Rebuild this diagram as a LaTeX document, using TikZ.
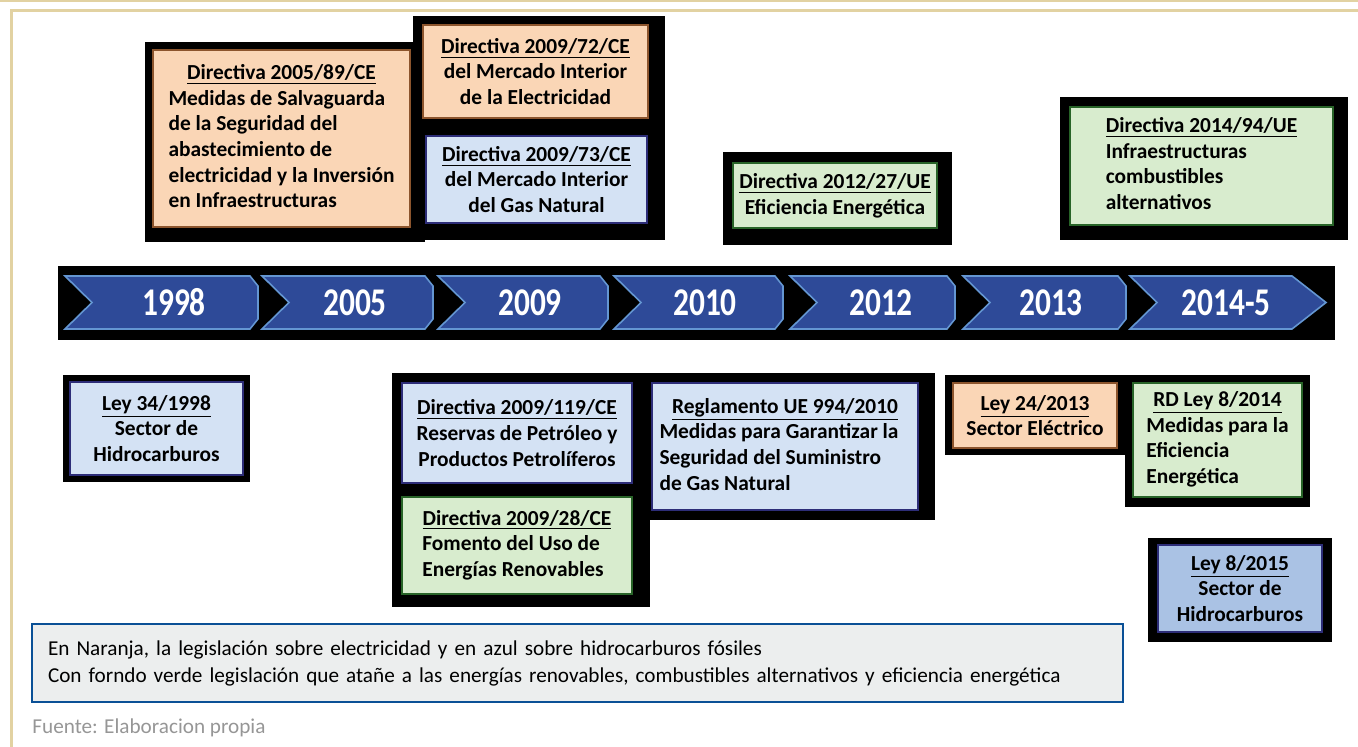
\documentclass[tikz,border=0pt]{standalone}
\usepackage{fontspec}
\setmainfont{Carlito}
\usetikzlibrary{positioning, calc}
\definecolor{chevblue}{RGB}{46,74,152}
\definecolor{chevedge}{RGB}{100,150,210}
\definecolor{elecfill}{RGB}{250,214,182}
\definecolor{elecedge}{RGB}{140,85,45}
\definecolor{hydrofill}{RGB}{212,226,244}
\definecolor{hydroedge}{RGB}{45,45,120}
\definecolor{hydrodark}{RGB}{170,194,228}
\definecolor{renewfill}{RGB}{216,236,206}
\definecolor{renewedge}{RGB}{40,100,40}
\definecolor{frametan}{RGB}{226,210,162}
\definecolor{legendfill}{RGB}{236,238,238}
\definecolor{legendedge}{RGB}{10,80,150}
\definecolor{sourcegray}{RGB}{150,150,150}

% heading centred over left-aligned lines
\newcommand{\hdc}[1]{\multicolumn{1}{@{}c@{}}{\underline{#1}}}
\newenvironment{lawlines}[1][0pt]{\begin{tabular}{@{}l@{\hspace{#1}}}}{\end{tabular}}

\begin{document}
\begin{tikzpicture}[
    x=0.5pt, y=-0.5pt,
    law/.style={rectangle, draw, line width=1pt, inner sep=0pt, text=black, font=\fontsize{10.7}{12.8}\selectfont\bfseries},
    elec/.style={law, fill=elecfill, draw=elecedge},
    hydro/.style={law, fill=hydrofill, draw=hydroedge},
    renew/.style={law, fill=renewfill, draw=renewedge},
    backing/.style={fill=black},
    chevron/.style={fill=chevblue, draw=chevedge, line width=0.8pt},
    year/.style={text=white, font=\fontsize{15.7}{15.7}\selectfont\bfseries},
    legendbox/.style={rectangle, draw=legendedge, line width=1pt, fill=legendfill, inner xsep=8pt, inner ysep=0pt, align=left, font=\fontsize{10.6}{13.5}\selectfont}
]
    \useasboundingbox (0,0) rectangle (1358,747);

    % frame
    \draw[frametan, line width=1pt] (0,1) -- (1358,1);
    \draw[frametan, line width=1.5pt] (1358,11) -- (11,11) -- (11,747);

    % black backings
    \fill[backing] (145,42) rectangle (425,242);
    \fill[backing] (413,16) rectangle (665,240);
    \fill[backing] (723,152) rectangle (952,245);
    \fill[backing] (1060,97) rectangle (1348,240);
    \fill[backing] (58,266) rectangle (1335,340);
    \fill[backing] (63,375) rectangle (250,482);
    \fill[backing] (392,373) rectangle (935,520);
    \fill[backing] (392,373) rectangle (650,607);
    \fill[backing] (945,375) rectangle (1125,455);
    \fill[backing] (1125,375) rectangle (1310,507);
    \fill[backing] (1148,538) rectangle (1332,642);

    % timeline
    \foreach \xl/\xr/\xc/\yr in {65/250/174/1998, 262/425/355/2005, 438/600/530/2009, 614/775/705/2010, 790/947/881/2012, 963/1118/1051/2013} {
        \draw[chevron] (\xl,276) -- (\xr,276) -- (\xr+8,286) -- (\xr+8,319) -- (\xr,329) -- (\xl,329) -- (\xl+27,302.5) -- cycle;
        \node[year] (yr\yr) at (\xc,302.5) {\scalebox{1}[1.25]{\yr}};
    }
    \draw[chevron] (1130,276) -- (1292,276) -- (1326,302.5) -- (1292,329) -- (1130,329) -- (1157,302.5) -- cycle;
    \node[year] (yr2014) at (1226,302.5) {\scalebox{1}[1.25]{2014-5}};

    % upper boxes
    \node[elec, minimum width=128.5pt, minimum height=88.5pt] (d0589) at (281.5,138.5)
        {\begin{lawlines}\hdc{Directiva 2005/89/CE}\\Medidas de Salvaguarda\\de la Seguridad del\\abastecimiento de\\electricidad y la Inversión\\en Infraestructuras\end{lawlines}};
    \node[elec, minimum width=112.5pt, minimum height=46.5pt, align=center] (d0972) at (535.5,71.5)
        {\underline{Directiva 2009/72/CE}\\del Mercado Interior\\de la Electricidad};
    \node[hydro, minimum width=110.5pt, minimum height=43.5pt, align=center] (d0973) at (536.5,179.5)
        {\underline{Directiva 2009/73/CE}\\del Mercado Interior\\del Gas Natural};
    \node[renew, minimum width=102pt, minimum height=32.5pt, align=center] (d1227) at (835,195.5)
        {\underline{Directiva 2012/27/UE}\\Eficiencia Energética};
    \node[renew, minimum width=131.5pt, minimum height=59pt] (d1494) at (1201.5,166)
        {\begin{lawlines}[13pt]\hdc{Directiva 2014/94/UE}\\Infraestructuras\\combustibles\\alternativos\end{lawlines}};

    % lower boxes
    \node[hydro, minimum width=86.5pt, minimum height=46.5pt, align=center] (ley98) at (156.5,428.5)
        {\underline{Ley 34/1998}\\Sector de\\Hidrocarburos};
    \node[hydro, minimum width=115pt, minimum height=50pt, align=center] (d09119) at (517,433)
        {\underline{Directiva 2009/119/CE}\\Reservas de Petróleo y\\Productos Petrolíferos};
    \node[renew, minimum width=115pt, minimum height=48.5pt] (d0928) at (517,545.5)
        {\begin{lawlines}[4pt]\hdc{Directiva 2009/28/CE}\\Fomento del Uso de\\Energías Renovables\end{lawlines}};
    \node[hydro, minimum width=133pt, minimum height=63.5pt] (reg994) at (785,446.5)
        {\begin{lawlines}[6pt]\hdc{Reglamento UE 994/2010}\\Medidas para Garantizar la\\Seguridad del Suministro\\de Gas Natural\end{lawlines}};
    \node[elec, minimum width=82pt, minimum height=32.5pt, align=center] (ley2413) at (1035,415.5)
        {\underline{Ley 24/2013}\\Sector Eléctrico};
    \node[renew, minimum width=84.5pt, minimum height=57pt] (rd814) at (1217.5,440)
        {\begin{lawlines}\hdc{RD Ley 8/2014}\\Medidas para la\\Eficiencia\\Energética\end{lawlines}};
    \node[hydro, fill=hydrodark, minimum width=82pt, minimum height=43.5pt, align=center] (ley815) at (1240,588.5)
        {\underline{Ley 8/2015}\\Sector de\\Hidrocarburos};

    % legend and source
    \node[legendbox, minimum width=545.5pt, minimum height=39pt, text width=529.5pt] (legend) at (577.5,663)
        {En Naranja, la legislación sobre electricidad y en azul sobre hidrocarburos fósiles\\Con forndo verde legislación que atañe a las energías renovables, combustibles alternativos y eficiencia energética};
    \node[anchor=west, inner sep=0pt, text=sourcegray, font=\fontsize{10.6}{12}\selectfont] (source) at (32,728) {Fuente: Elaboracion propia};
\end{tikzpicture}
\end{document}
